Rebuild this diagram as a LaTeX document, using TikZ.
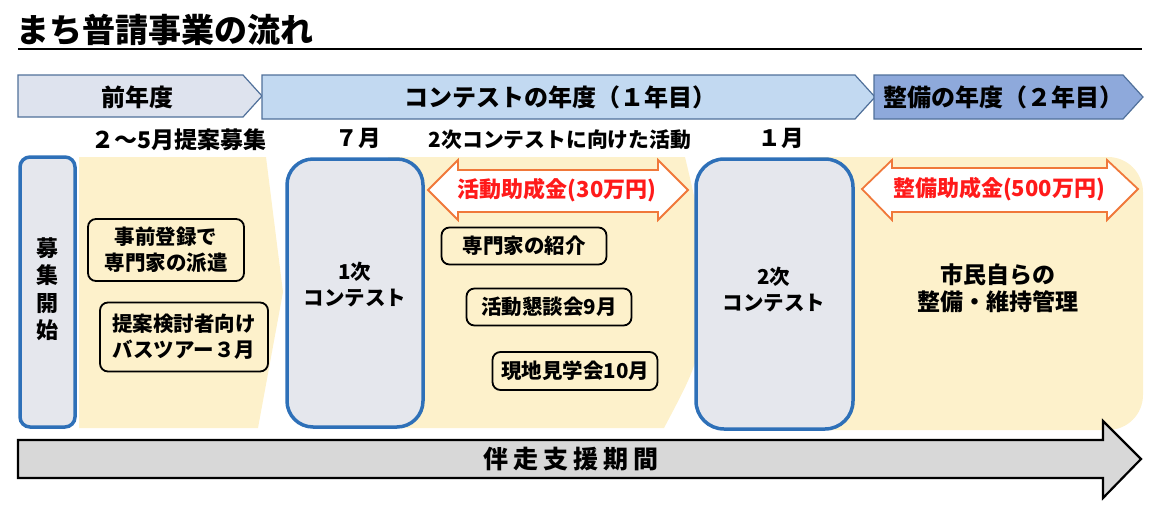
\documentclass[tikz,border=0pt]{standalone}
\usepackage{fontspec}
\setmainfont{Noto Sans CJK JP}
\usepackage{tikz}

\definecolor{crema}{HTML}{FDF1CB}
\definecolor{grigio}{HTML}{E5E7ED}
\definecolor{bordoblu}{HTML}{2E70B8}
\definecolor{anno1}{HTML}{DEE3EE}
\definecolor{anno2}{HTML}{C2D9F1}
\definecolor{anno3}{HTML}{8EA9DB}
\definecolor{bordoanno}{HTML}{50709A}
\definecolor{arancio}{HTML}{F0783A}
\definecolor{rosso}{HTML}{FF1A1A}
\definecolor{grigiofreccia}{HTML}{D8D8D8}

\newcommand{\fsz}[2]{\fontsize{#1}{#2}\selectfont\bfseries}

\begin{document}
\begin{tikzpicture}[x=1pt, y=-1pt,
		every node/.style={inner sep=0pt, align=center},
		giallo/.style={fill=crema},
		concorso/.style={draw=bordoblu, line width=3.5pt, fill=grigio},
		anno/.style={draw=bordoanno, line width=1.2pt},
		riquadro/.style={draw=black, line width=1.8pt, rounded corners=8pt, fill=crema, font=\fsz{20.5}{26}},
		fascia/.style={draw=arancio, line width=1.8pt, fill=white},
		rosso/.style={text=rosso, font=\fsz{22}{24}}]
			\useasboundingbox (0,0) rectangle (1157,512);
			% titolo
			\node[anchor=west, font=\fsz{33}{38}] (titolo) at (16,30) {まち普請事業の流れ};
			\draw[line width=2pt] (18,49) -- (1142,49);
			% anni
			\draw[anno, fill=anno1] (18,75) -- (243,75) -- (262,96) -- (243,117) -- (18,117) -- cycle;
			\draw[anno, fill=anno2] (262,75) -- (855,75) -- (875,97) -- (855,119) -- (262,119) -- cycle;
			\draw[anno, fill=anno3] (874,75) -- (1123,75) -- (1143,97) -- (1123,119) -- (874,119) -- cycle;
			\node[font=\fsz{24}{27}] (prec) at (137,97) {前年度};
			\node[font=\fsz{24}{27}] (gara) at (560,97) {コンテストの年度（１年目）};
			\node[font=\fsz{24}{27}] (opere) at (1003,97) {整備の年度（２年目）};
			% mesi
			\node[font=\fsz{23}{26}] (proposte) at (179,140) {２～5月提案募集};
			\node[font=\fsz{22.5}{26}] (luglio) at (358,138) {７月};
			\node[font=\fsz{20.8}{26}] (attivita) at (560,140) {2次コンテストに向けた活動};
			\node[font=\fsz{22.5}{26}] (gennaio) at (781,138) {１月};
			% fondo giallo
			\fill[giallo] (79,157) -- (266,157) -- (283,292) -- (258,428) -- (79,428) -- cycle;
			\fill[giallo] (388,157) -- (685,157) .. controls (700,220) .. (702,292) .. controls (700,360) .. (664,428) -- (388,428) -- cycle;
			\fill[giallo, rounded corners=35pt] (780,157) rectangle (1143,430);
			% contest
			\draw[concorso, rounded corners=10pt] (20,157) rectangle (75,427);
			\draw[concorso, rounded corners=26pt] (287,159) rectangle (423,427);
			\draw[concorso, rounded corners=28pt] (696,159) rectangle (853,429);
			\node[font=\fsz{22}{27.5}] (bando) at (47,289) {募\\集\\開\\始};
			\node[font=\fsz{20.5}{26}] (primo) at (355,285) {1次\\コンテスト};
			\node[font=\fsz{20.5}{26}] (secondo) at (774,290) {2次\\コンテスト};
			% contributi
			\draw[fascia] (428,190) -- (458,160) -- (458,170) -- (658,170) -- (658,160) -- (688,190) -- (658,220) -- (658,212) -- (458,212) -- (458,220) -- cycle;
			\draw[fascia] (862,189) -- (892,160) -- (892,168) -- (1107,168) -- (1107,160) -- (1138,189) -- (1107,220) -- (1107,212) -- (892,212) -- (892,220) -- cycle;
			\node[rosso] (contributo1) at (557,190) {活動助成金(30万円)};
			\node[rosso] (contributo2) at (999,189) {整備助成金(500万円)};
			% attivita
			\node[riquadro, minimum width=156pt, minimum height=62pt] (esperti) at (166,250) {事前登録で\\専門家の派遣};
			\node[riquadro, minimum width=168pt, minimum height=69pt] (bus) at (184,337) {提案検討者向け\\バスツアー３月};
			\node[riquadro, minimum width=165pt, minimum height=37pt] (presenta) at (524,246) {専門家の紹介};
			\node[riquadro, minimum width=165pt, minimum height=37pt] (incontro) at (549,307) {活動懇談会9月};
			\node[riquadro, minimum width=165pt, minimum height=38pt] (visita) at (575,371) {現地見学会10月};
			\node[font=\fsz{23}{27}] (cittadini) at (998,288) {市民自らの\\整備・維持管理};
			% supporto
			\draw[line width=2.2pt, fill=grigiofreccia] (18,440) -- (1103,440) -- (1103,421) -- (1141,459) -- (1103,498) -- (1103,478) -- (18,478) -- cycle;
			\node[font=\fsz{25}{28}] (supporto) at (571,459) {伴\hspace{5pt}走\hspace{5pt}支\hspace{5pt}援\hspace{5pt}期\hspace{5pt}間};
		\end{tikzpicture}
\end{document}
